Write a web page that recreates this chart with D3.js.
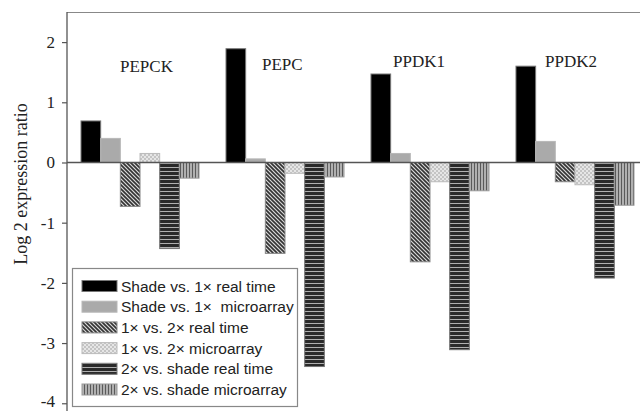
<!DOCTYPE html>
<html>
<head>
<meta charset="utf-8">
<script src="https://cdn.jsdelivr.net/npm/d3@7"></script>
<style>
  body { margin: 0; background: #fff; }
  svg { display: block; }
</style>
</head>
<body>
<script>
// values
var categories = ["PEPCK", "PEPC", "PPDK1", "PPDK2"];
var seriesNames = [
  "Shade vs. 1\u00d7 real time",
  "Shade vs. 1\u00d7  microarray",
  "1\u00d7 vs. 2\u00d7 real time",
  "1\u00d7 vs. 2\u00d7 microarray",
  "2\u00d7 vs. shade real time",
  "2\u00d7 vs. shade microarray"
];
var shadeRealTime   = [0.69, 1.89, 1.47, 1.60];
var shadeMicroarray = [0.40, 0.06, 0.15, 0.35];
var oneTwoRealTime  = [-0.73, -1.51, -1.65, -0.32];
var oneTwoMicro     = [0.15, -0.18, -0.32, -0.37];
var twoShadeReal    = [-1.43, -3.39, -3.11, -1.92];
var twoShadeMicro   = [-0.26, -0.24, -0.47, -0.71];
var yTicks = [-4, -3, -2, -1, 0, 1, 2];

var series = [shadeRealTime, shadeMicroarray, oneTwoRealTime, oneTwoMicro, twoShadeReal, twoShadeMicro];

var w = 640, h = 411;
var serif = "'Liberation Serif', 'Times New Roman', serif";
var svg = d3.select("body").append("svg").attr("width", w).attr("height", h);

// patterns
var defs = svg.append("defs");
function pat(id, pw, ph) {
  return defs.append("pattern").attr("id", id).attr("patternUnits", "userSpaceOnUse")
    .attr("width", pw).attr("height", ph);
}
var p;
p = pat("hatch", 4, 4);
p.append("rect").attr("width", 4).attr("height", 4).attr("fill", "#d8d8d8");
p.append("path").attr("d", "M-1,-1 L5,5 M-1,3 L1,5 M3,-1 L5,1").attr("stroke", "#333").attr("stroke-width", 1.6);
p = pat("dots", 4, 4);
p.append("rect").attr("width", 4).attr("height", 4).attr("fill", "#c4c4c4");
p.append("rect").attr("width", 2).attr("height", 2).attr("fill", "#e6e6e6");
p.append("rect").attr("x", 2).attr("y", 2).attr("width", 2).attr("height", 2).attr("fill", "#e6e6e6");
p = pat("hstripe", 4, 4);
p.append("rect").attr("width", 4).attr("height", 4).attr("fill", "#2a2a2a");
p.append("rect").attr("y", 3).attr("width", 4).attr("height", 1).attr("fill", "#b0b0b0");
p = pat("vstripe", 3, 3);
p.append("rect").attr("width", 3).attr("height", 3).attr("fill", "#b0b0b0");
p.append("rect").attr("width", 1).attr("height", 3).attr("fill", "#5a5a5a");

var fills = ["#000", "#aaa", "url(#hatch)", "url(#dots)", "url(#hstripe)", "url(#vstripe)"];
var strokes = ["#777", "#b8b8b8", "#888", "#bbb", "#777", "#999"];

var y = d3.scaleLinear().domain([-4.2, 2.5]).range([415.3, 12]);
var x0 = d3.scaleBand().domain(categories).range([67, 648])
  .paddingInner(0.186).paddingOuter(0.0966);
var x1 = d3.scaleBand().domain(d3.range(series.length)).range([0, x0.bandwidth()]);

// top frame line
svg.append("line").attr("x1", 67).attr("x2", w).attr("y1", 12.5).attr("y2", 12.5)
  .attr("stroke", "#888").attr("stroke-width", 1.2);

// bars
series.forEach(function(vals, si) {
  svg.append("g").selectAll("rect").data(vals).enter().append("rect")
    .attr("x", function(d, i) { return x0(categories[i]) + x1(si); })
    .attr("width", x1.bandwidth())
    .attr("y", function(d) { return y(Math.max(0, d)); })
    .attr("height", function(d) { return Math.abs(y(d) - y(0)); })
    .attr("fill", fills[si])
    .attr("stroke", strokes[si])
    .attr("stroke-width", 1);
});

// zero line
svg.append("line").attr("x1", 67).attr("x2", w).attr("y1", y(0)).attr("y2", y(0))
  .attr("stroke", "#555").attr("stroke-width", 1.3);

// y axis
var yAxis = svg.append("g").attr("transform", "translate(67,0)")
  .call(d3.axisLeft(y).tickValues(yTicks).tickSize(5).tickPadding(7)
    .tickFormat(function(d) { return String(d); }));
yAxis.select(".domain").attr("stroke", "#555").attr("stroke-width", 1.3).attr("d", "M0,12V411");
yAxis.selectAll(".tick line").attr("stroke", "#555").attr("stroke-width", 1.2);
yAxis.selectAll(".tick text")
  .style("font-family", serif).style("font-size", "17px").attr("fill", "#222");
yAxis.selectAll(".tick").filter(function(d) { return d === -4; }).select("text").attr("dy", "0.2em");

svg.append("text")
  .attr("transform", "translate(27,184) rotate(-90)")
  .attr("text-anchor", "middle")
  .style("font-family", serif).style("font-size", "18px").attr("fill", "#222")
  .text("Log 2 expression ratio");

// gene labels
var labelDx = [39, 36, 22, 29], labelY = [72, 70, 67, 67];
svg.selectAll(".gene").data(categories).enter().append("text")
  .attr("class", "gene")
  .attr("x", function(d, i) { return x0(d) + labelDx[i]; })
  .attr("y", function(d, i) { return labelY[i]; })
  .style("font-family", serif).style("font-size", "17px").attr("fill", "#222")
  .text(function(d) { return d; });

// legend
var lg = svg.append("g");
lg.append("rect").attr("x", 72.5).attr("y", 268.5).attr("width", 225).attr("height", 138)
  .attr("fill", "#fff").attr("stroke", "#888").attr("stroke-width", 1.2);
seriesNames.forEach(function(name, i) {
  var cy = 286 + i * 20.7;
  lg.append("rect").attr("x", 82).attr("y", cy - 5.5).attr("width", 35).attr("height", 11)
    .attr("fill", fills[i]).attr("stroke", strokes[i]).attr("stroke-width", 1);
  lg.append("text").attr("x", 121).attr("y", cy + 5.5)
    .attr("font-family", "Liberation Sans, Arial, sans-serif")
    .attr("font-size", 15.5).attr("fill", "#222")
    .attr("xml:space", "preserve")
    .text(name);
});
</script>
</body>
</html>
